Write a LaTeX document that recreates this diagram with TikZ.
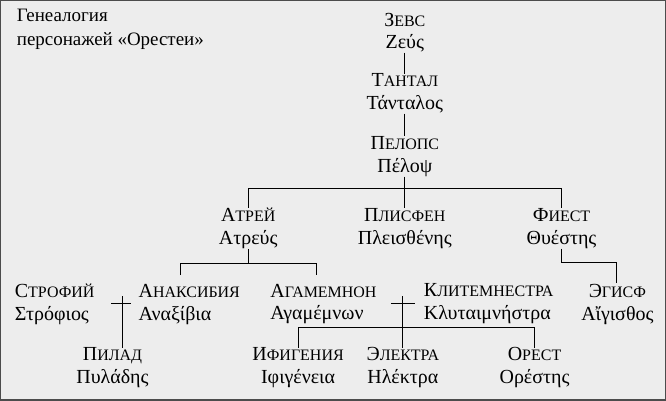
\documentclass[tikz,border=0pt]{standalone}
\usepackage{fontspec}
\setmainfont{Liberation Serif}
\usetikzlibrary{positioning}
% small caps made by hand
\newcommand{\fakesc}[2]{{\fontsize{20}{21}\selectfont #1}{\fontsize{16}{21}\selectfont #2}}
\begin{document}
\begin{tikzpicture}
      [ x = 1pt, y = -1pt
      , person/.style =
        { align = center, inner sep = 0pt, font = \fontsize{20}{23}\selectfont }
      , lefty/.style =
        { person, align = left, anchor = west }
      , line/.style =
        { line width = .7pt }
      ]
      \fill [black!7] (0,0) rectangle (666,400);
      \draw [line width=1.5pt, black!70] (0,0) rectangle (666,400);
      \node [lefty, anchor = north west, font = \fontsize{19}{24}\selectfont] (title) at (16,8)
        {Генеалогия\\ персонажей «Орестеи»};
      \node [person] (zeus) at (405,32) {\fakesc{З}{ЕВС}\\Ζεύς};
      \node [person] (tantal) at (405,93) {\fakesc{Т}{АНТАЛ}\\Τάνταλος};
      \node [person] (pelops) at (405,156) {\fakesc{П}{ЕЛОПС}\\Πέλοψ};
      \node [person] (atrei) at (248,228) {\fakesc{А}{ТРЕЙ}\\Ατρεύς};
      \node [person] (plisfen) at (405,228) {\fakesc{П}{ЛИСФЕН}\\Πλεισθένης};
      \node [person] (fiest) at (562,228) {\fakesc{Ф}{ИЕСТ}\\Θυέστης};
      \node [lefty] (strofii) at (14,304) {\fakesc{С}{ТРОФИЙ}\\Στρόφιος};
      \node [lefty] (anaks) at (138,304) {\fakesc{А}{НАКСИБИЯ}\\Αναξίβια};
      \node [lefty] (agam) at (270,304) {\fakesc{А}{ГАМЕМНОН}\\Αγαμέμνων};
      \node [lefty] (klit) at (424,304) {\fakesc{К}{ЛИТЕМНЕСТРА}\\Κλυταιμνήστρα};
      \node [person] (egisf) at (618,304) {\fakesc{Э}{ГИСФ}\\Αἴγισθος};
      \node [person] (pilad) at (112,368) {\fakesc{П}{ИЛАД}\\Πυλάδης};
      \node [person] (ifig) at (298,368) {\fakesc{И}{ФИГЕНИЯ}\\Ιφιγένεια};
      \node [person] (elektra) at (403,368) {\fakesc{Э}{ЛЕКТРА}\\Ηλέκτρα};
      \node [person] (orest) at (535,368) {\fakesc{О}{РЕСТ}\\Ορέστης};
      \draw [line] (zeus) -- (tantal);
      \draw [line] (tantal) -- (pelops);
      \draw [line] (pelops) -- (405,188);
      \draw [line] (atrei.north) -- (248,188) -| (fiest.north);
      \draw [line] (405,188) -- (plisfen);
      \draw [line] (atrei) -- (248,263);
      \draw [line] (180,275) -- (180,263) -| (316,275);
      \draw [line] (fiest.south) -- (562,262) -| (617,283);
      % marriages
      \draw [line] (111,303) -- (131,303);
      \draw [line] (122,296) -- (pilad.north -| 122,0);
      \draw [line] (391,303) -- (415,303);
      \draw [line] (403,296) -- (elektra);
      \draw [line] (ifig) -- (298,327) -| (orest);
\end{tikzpicture}
\end{document}
